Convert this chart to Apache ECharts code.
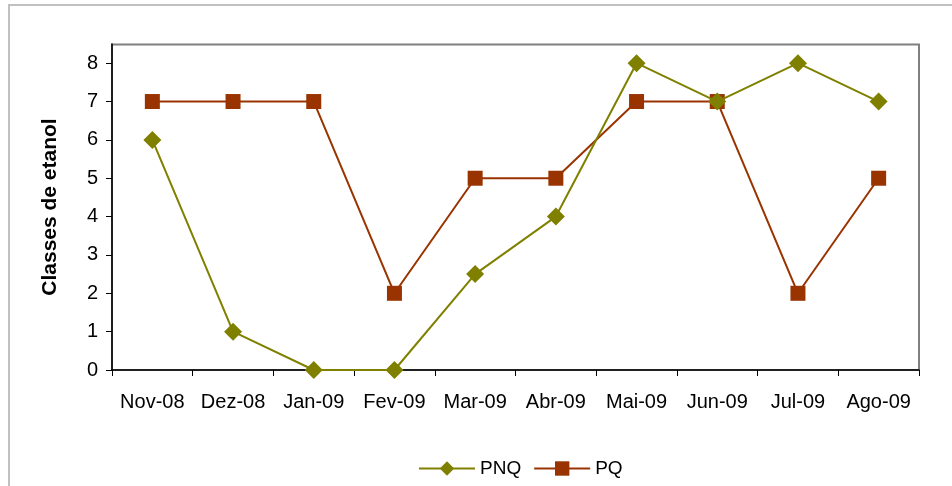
<!DOCTYPE html>
<html>
<head>
<meta charset="utf-8">
<script src="https://cdn.jsdelivr.net/npm/echarts@6/dist/echarts.min.js"></script>
<style>
  html, body { margin: 0; padding: 0; background: #fff; }
  #chart { width: 952px; height: 486px; }
</style>
</head>
<body>
<div id="chart"></div>
<script>
// Monthly ethanol classes for the two groups
const months = ['Nov-08', 'Dez-08', 'Jan-09', 'Fev-09', 'Mar-09', 'Abr-09', 'Mai-09', 'Jun-09', 'Jul-09', 'Ago-09'];
const pnq = [6, 1, 0, 0, 2.5, 4, 8, 7, 8, 7];
const pq = [7, 7, 7, 2, 5, 5, 7, 7, 2, 5];
const yTicks = [0, 1, 2, 3, 4, 5, 6, 7, 8];

const chart = echarts.init(document.getElementById('chart'), null, { renderer: 'canvas' });
const font = 'Liberation Sans, Arial, sans-serif';

chart.setOption({
  animation: false,
  backgroundColor: '#ffffff',
  graphic: [
    {
      type: 'rect',
      shape: { x: 9, y: 5, width: 960, height: 500 },
      style: { fill: 'none', stroke: '#c0c0c0', lineWidth: 2 },
      silent: true, z: -1
    },
    {
      type: 'rect',
      shape: { x: 112, y: 44.5, width: 807, height: 325.5 },
      style: { fill: 'none', stroke: '#808080', lineWidth: 2 },
      silent: true, z: 0
    }
  ],
  grid: { left: 112, top: 44, right: 33, bottom: 116, containLabel: false },
  legend: {
    bottom: 3,
    left: 413,
    itemWidth: 56,
    itemHeight: 18,
    itemGap: 12,
    textStyle: { fontFamily: font, fontSize: 19, color: '#000' },
    data: ['PNQ', 'PQ']
  },
  xAxis: {
    type: 'category',
    data: months,
    boundaryGap: true,
    axisLine: { lineStyle: { color: '#000', width: 1.5 } },
    axisTick: { show: true, length: 6, interval: 0, lineStyle: { color: '#000' } },
    axisLabel: { fontFamily: font, fontSize: 20, color: '#000', margin: 22, interval: 0 },
    splitLine: { show: false }
  },
  yAxis: {
    type: 'value',
    min: 0,
    max: 8.5,
    interval: 1,
    name: 'Classes de etanol',
    nameLocation: 'middle',
    nameGap: 51,
    nameTextStyle: { fontFamily: font, fontSize: 21, fontWeight: 'bold', color: '#000' },
    axisLine: { show: true, lineStyle: { color: '#000', width: 1.5 } },
    axisTick: { show: true, length: 6, customValues: yTicks, lineStyle: { color: '#000' } },
    axisLabel: {
      fontFamily: font, fontSize: 20, color: '#000', margin: 14,
      customValues: yTicks
    },
    splitLine: { show: false }
  },
  series: [
    {
      name: 'PNQ',
      type: 'line',
      data: pnq,
      symbol: 'diamond',
      symbolSize: 18,
      lineStyle: { color: '#808000', width: 2 },
      itemStyle: { color: '#808000' },
      z: 3
    },
    {
      name: 'PQ',
      type: 'line',
      data: pq,
      symbol: 'rect',
      symbolSize: 15,
      lineStyle: { color: '#993300', width: 2 },
      itemStyle: { color: '#993300' },
      z: 2
    }
  ]
});
</script>
</body>
</html>
